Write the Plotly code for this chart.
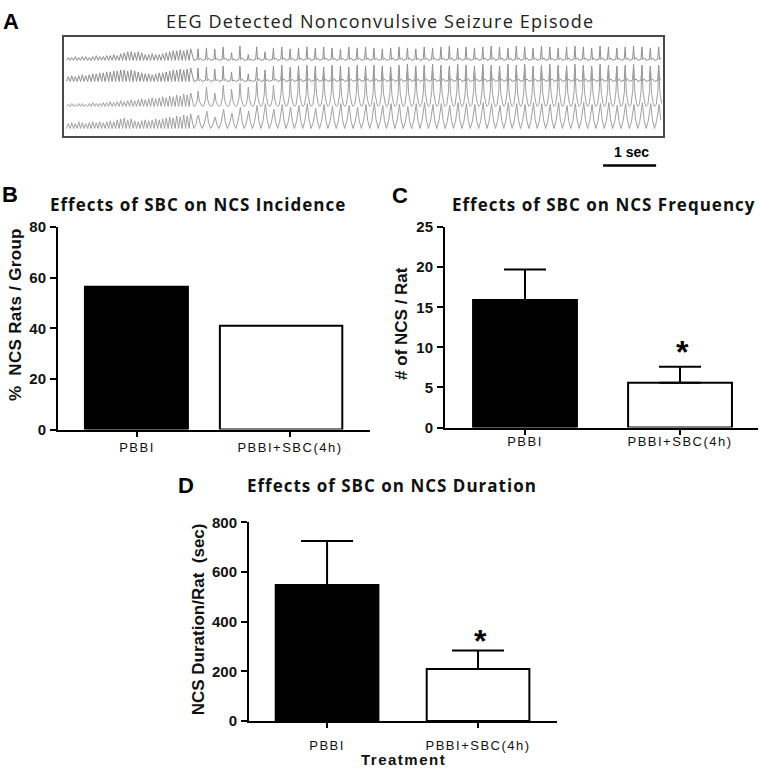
import plotly.graph_objects as go

W, H = 760, 773


def px(x):
    return x / W


def py(y):
    return 1 - y / H


# ---------------- data ----------------
categories = ["PBBI", "PBBI+SBC(4h)"]
incidence_pct = [56.4, 41.0]
frequency_mean = [15.9, 5.6]
frequency_sem = [3.8, 2.0]
duration_mean = [548, 209]
duration_sem = [177, 75]
significance = ["", "*"]

# EEG trace: wave / spike amplitudes (arbitrary units)
ch1_fast = [3, 3, 4, 3, 4, 4, 3, 4, 5, 4, 4, 5, 5, 6, 5, 7, 8, 9, 9, 8, 9, 8, 6, 6, 7, 6, 6, 7, 8, 9, 10, 10, 11, 10, 11, 12]
ch1_slow = [12, 13, 12, 14, 8, 15, 6, 14, 9, 13, 14, 12, 13, 14, 13, 14, 13, 12, 14, 13, 14, 13, 12, 13, 14, 13, 12, 14,
            13, 14, 15, 13, 14, 13, 14, 15, 14, 13, 15, 14, 13, 15, 14, 13, 14, 15, 14, 13, 15, 14, 13, 14, 15, 14, 13, 14]
ch2_fast = [5, 6, 5, 6, 7, 6, 7, 8, 8, 9, 9, 10, 10, 11, 11, 12, 12, 11, 12, 11, 10, 9, 8, 8, 7, 8, 9, 9, 10, 11, 12, 12, 13, 12, 13, 14]
ch2_slow = [14, 15, 13, 16, 10, 16, 8, 15, 12, 16, 17, 15, 16, 17, 16, 15, 17, 16, 15, 17, 16, 17, 16, 15, 17, 18, 16, 17,
            18, 17, 16, 18, 17, 16, 18, 17, 16, 18, 17, 18, 16, 17, 18, 17, 16, 18, 17, 16, 18, 17, 16, 17, 18, 17, 16, 17]
ch3_fast = [2, 3, 2, 3, 3, 2, 3, 4, 3, 3, 4, 4, 5, 4, 5, 6, 5, 6, 7, 6, 7, 8, 7, 8, 9, 8, 9, 10, 9, 11, 10, 12, 11, 13, 12, 14]
ch3_slow = [16, 20, 14, 22, 18, 24, 20, 26, 30, 22, 32, 28, 34, 30, 36, 33, 35, 30, 34, 36, 32, 35, 37, 34, 36, 38, 35, 37,
            39, 36, 38, 40, 37, 39, 38, 40, 39, 37, 40, 41, 38, 40, 39, 41, 40, 38, 41, 40, 39, 41, 40, 38, 41, 40, 39, 40]
ch4_fast = [5, 6, 5, 7, 6, 5, 6, 7, 6, 7, 6, 7, 8, 7, 9, 10, 11, 9, 10, 8, 7, 8, 9, 8, 9, 10, 9, 10, 11, 12, 11, 13, 12, 14, 13, 15]
ch4_slow = [14, 18, 12, 20, 16, 22, 18, 24, 26, 20, 25, 22, 24, 26, 21, 25, 23, 26, 24, 22, 25, 27, 24, 26, 25, 23, 26, 27,
            25, 26, 24, 27, 26, 25, 27, 26, 24, 27, 26, 25, 27, 26, 25, 27, 24, 26, 27, 25, 26, 27, 24, 26, 25, 27, 26, 25]
ch_baseline = [52, 74, 100, 123]

# ---------------- EEG construction ----------------
fast_start, fast_step = 0.05, 0.066
slow_start, slow_step = 2.45, 0.158
spike_shapes = [
    ([0.0, 0.38, 0.5, 0.6, 0.8], [0.0, 0.08, 1.0, 0.05, 0.18]),
    ([0.0, 0.38, 0.5, 0.6, 0.8], [0.0, 0.08, 1.0, 0.05, 0.15]),
    ([0.0, 0.2, 0.4, 0.5, 0.65, 0.85], [0.0, 0.05, 0.4, 1.0, 0.35, 0.08]),
    ([0.0, 0.25, 0.45, 0.55, 0.75], [0.0, 0.3, 0.9, 1.0, 0.35]),
]
channels = [(ch1_fast, ch1_slow), (ch2_fast, ch2_slow), (ch3_fast, ch3_slow), (ch4_fast, ch4_slow)]

fig = go.Figure()
for k, (fast, slow) in enumerate(channels):
    base = ch_baseline[k]
    xs, ys = [], []
    for i, a in enumerate(fast):
        t = fast_start + i * fast_step
        xs += [t, t + 0.45 * fast_step]
        ys += [base, base - a]
    offs, hts = spike_shapes[k]
    for i, a in enumerate(slow):
        t = slow_start + i * slow_step
        for o, h in zip(offs, hts):
            xs.append(t + o * slow_step)
            ys.append(base - h * a)
    fig.add_trace(go.Scatter(x=xs, y=ys, mode="lines", xaxis="x", yaxis="y",
                             line=dict(color="#8e8e8e" if k < 2 else "#a0a0a0", width=1),
                             hoverinfo="skip", showlegend=False))

# ---------------- bars ----------------
bar_line = dict(color="black", width=2)
fills = ["black", "white"]

fig.add_trace(go.Bar(x=[0, 1], y=incidence_pct, xaxis="x2", yaxis="y2",
                     width=[0.673, 0.80], offset=[-0.34, -0.458],
                     marker=dict(color=fills, line=bar_line), showlegend=False))
fig.add_trace(go.Bar(x=[0, 1], y=frequency_mean, xaxis="x3", yaxis="y3", width=0.67,
                     marker=dict(color=fills, line=bar_line), showlegend=False,
                     error_y=dict(type="data", symmetric=False, array=frequency_sem,
                                  arrayminus=[0, 0], color="black", thickness=2, width=21)))
fig.add_trace(go.Bar(x=[0, 1], y=duration_mean, xaxis="x4", yaxis="y4", width=0.68,
                     marker=dict(color=fills, line=bar_line), showlegend=False,
                     error_y=dict(type="data", symmetric=False, array=duration_sem,
                                  arrayminus=[0, 0], color="black", thickness=2, width=26)))

tick_font = dict(family="Liberation Sans, Arial", size=15, color="#111", weight="bold")
cat_font = dict(family="Liberation Sans, Arial", size=13, color="#111")
ticktext = [f'<span style="letter-spacing:1.5px">{c}</span>' for c in categories]


def xax(x0, x1, y_anchor, rng, standoff):
    return dict(domain=[px(x0), px(x1)], range=rng, anchor=y_anchor, showline=True,
                linecolor="black", linewidth=2, ticks="outside", ticklen=5, tickwidth=2,
                tickcolor="black", tickvals=[0, 1], ticktext=ticktext, tickfont=cat_font,
                showgrid=False, zeroline=False, ticklabelstandoff=standoff)


def yax(ytop, ybot, x_anchor, rng, dtick):
    return dict(domain=[py(ybot), py(ytop)], range=rng, anchor=x_anchor, showline=True,
                linecolor="black", linewidth=2, ticks="outside", ticklen=6, tickwidth=2,
                tickcolor="black", dtick=dtick, tick0=0, tickfont=tick_font,
                showgrid=False, zeroline=False, ticklabelstandoff=1)


eeg_axis = dict(showline=True, mirror=True, linecolor="#4a4a4a", linewidth=1.5,
                showticklabels=False, showgrid=False, zeroline=False, ticks="")

fig.update_layout(
    width=W, height=H, margin=dict(l=0, r=0, t=0, b=0),
    paper_bgcolor="white", plot_bgcolor="white", showlegend=False,
    xaxis=dict(domain=[px(64), px(663)], range=[0, 11.3], anchor="y", **eeg_axis),
    yaxis=dict(domain=[py(130), py(29)], range=[131, 28], anchor="x", **eeg_axis),
    xaxis2=xax(58, 370, "y2", [-0.516, 1.523], 0),
    yaxis2=yax(223, 430, "x2", [0, 80], 20),
    xaxis3=xax(445, 758, "y3", [-0.516, 1.503], -4),
    yaxis3=yax(223, 428, "x3", [0, 25], 5),
    xaxis4=xax(249, 557, "y4", [-0.517, 1.523], 6),
    yaxis4=yax(525, 728, "x4", [0, 800], 200),
)

# scale bar in EEG time units (1 s)
fig.add_shape(type="line", xref="x", yref="paper", x0=10.17, x1=11.17, y0=py(160), y1=py(160),
              line=dict(color="black", width=2.5))

title_font = dict(family="Open Sans", size=17, color="#111", weight="bold")
label_font = dict(family="Liberation Sans, Arial", size=22, color="black", weight="bold")
ylab_font = dict(family="Liberation Sans, Arial", size=17, color="#111", weight="bold")

ann = []


def add_text(x, y, text, font, angle=0, xanchor="center"):
    ann.append(dict(x=px(x), y=py(y), xref="paper", yref="paper", text=text, showarrow=False,
                    font=font, textangle=angle, xanchor=xanchor, yanchor="middle"))


def spaced(text, s):
    return f'<span style="letter-spacing:{s}px">{text}</span>'


add_text(380, 12, spaced("EEG Detected Nonconvulsive Seizure Episode", 1.2),
         dict(family="Open Sans", size=18, color="#222"))
add_text(631, 146, "1 sec", dict(family="Liberation Sans, Arial", size=14, color="black", weight="bold"))

add_text(11, 13, "A", label_font)
add_text(10, 190, "B", label_font)
add_text(400, 191, "C", label_font)
add_text(186, 487, "D", label_font)

add_text(198, 200, spaced("Effects of SBC on NCS Incidence", 1), title_font)
add_text(603, 200, spaced("Effects of SBC on NCS Frequency", 1), title_font)
add_text(392, 487, spaced("Effects of SBC on NCS Duration", 1), title_font)

add_text(15, 313, spaced("%\u00a0\u00a0NCS Rats / Group", 0.3), ylab_font, angle=-90)
add_text(402, 322, "# of NCS / Rat", ylab_font, angle=-90)
add_text(198, 624, "NCS Duration/Rat\u00a0\u00a0(sec)", ylab_font, angle=-90)

add_text(403, 767, spaced("Treatment", 1.5),
         dict(family="Liberation Sans, Arial", size=15, color="#111", weight="bold"))

star_font = dict(family="Liberation Sans, Arial", size=32, color="black", weight="bold")
add_text(682, 351, significance[1], star_font)
add_text(480, 646, significance[1], star_font)

fig.update_layout(annotations=ann)
fig.write_html("out.html", config={"displayModeBar": False},
               post_script="document.body.style.margin='0';")
